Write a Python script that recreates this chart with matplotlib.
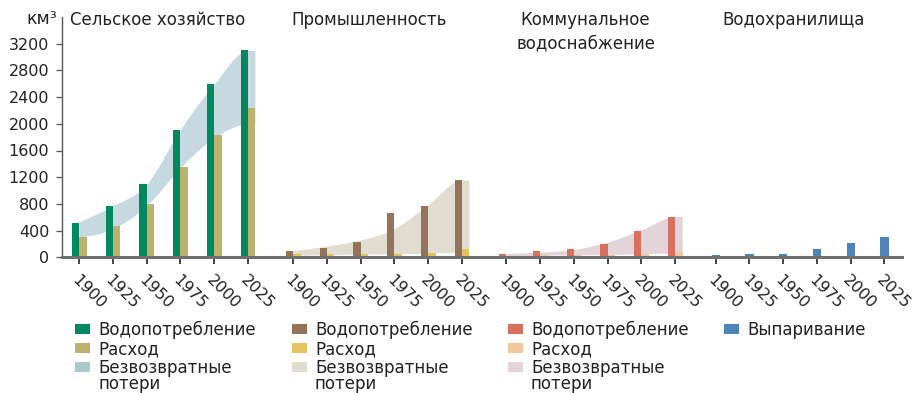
import numpy as np
import matplotlib
matplotlib.use("Agg")
import matplotlib.pyplot as plt
from matplotlib.path import Path
from matplotlib.patches import PathPatch, Rectangle

# --- data (km3) ---
YEARS = ["1900", "1925", "1950", "1975", "2000", "2025"]
GROUPS = ["Сельское хозяйство", "Промышленность", "Коммунальное\nводоснабжение", "Водохранилища"]

agri_withdrawal = [520, 770, 1100, 1900, 2600, 3100]
agri_consumption = [310, 470, 800, 1350, 1830, 2230]
agri_loss_top = [520, 760, 1080, 1900, 2580, 3090]
agri_loss_bottom = [305, 420, 760, 1330, 1780, 1990]

ind_withdrawal = [95, 140, 230, 665, 770, 1160]
ind_consumption = [45, 50, 50, 55, 70, 125]
ind_loss_top = [90, 160, 250, 420, 775, 1150]
ind_loss_bottom = [25, 35, 40, 45, 55, 70]

mun_withdrawal = [50, 95, 125, 200, 395, 605]
mun_consumption = [20, 30, 30, 35, 50, 85]
mun_loss_top = [50, 70, 110, 220, 400, 605]
mun_loss_bottom = [20, 25, 30, 35, 45, 55]

res_evaporation = [35, 50, 50, 125, 210, 310]

LEGEND_COLS = [
    ["Водопотребление", "Расход", "Безвозвратные\nпотери"],
    ["Водопотребление", "Расход", "Безвозвратные\nпотери"],
    ["Водопотребление", "Расход", "Безвозвратные\nпотери"],
    ["Выпаривание"],
]

# --- style ---
W, H = 922, 393
TXT = "#222222"
C_AGRI = ("#00895f", "#bdb16f", "#c6d9e0")
C_IND = ("#93745a", "#e5c35e", "#e0dcd0")
C_MUN = ("#d96f5f", "#f0c89b", "#e3d4d9")
C_RES = "#4e84b9"
LEG_COLORS = [
    ["#00895f", "#bdb16f", "#a9cacb"],
    ["#93745a", "#e5c35e", "#e0dcd0"],
    ["#d96f5f", "#f0c89b", "#e3d4d9"],
    ["#4e84b9"],
]
GROUP_START = [0.0, 6.34, 12.66, 18.86]
BW = 0.22


def fx(px):
    return px / W


def fy(py):
    return 1 - py / H


def hermite_band(ax, xs, top, bottom, color):
    """Smooth band between two curves, drawn as cubic bezier path."""
    def segs(x, y):
        x = np.asarray(x, float)
        y = np.asarray(y, float)
        sec = np.diff(y) / np.diff(x)
        m = np.empty_like(y)
        m[0] = sec[0]
        m[-1] = 0.0
        for i in range(1, len(y) - 1):
            if sec[i - 1] * sec[i] <= 0:
                m[i] = 0.0
            else:
                m[i] = 0.5 * (sec[i - 1] + sec[i])
        verts = []
        for i in range(len(x) - 1):
            dx = x[i + 1] - x[i]
            verts.append((x[i] + dx / 3, y[i] + m[i] * dx / 3))
            verts.append((x[i + 1] - dx / 3, y[i + 1] - m[i + 1] * dx / 3))
            verts.append((x[i + 1], y[i + 1]))
        return verts

    xe = list(xs) + [xs[-1] + BW]
    te = list(top) + [top[-1]]
    be = list(bottom) + [bottom[-1]]
    up = segs(xe, te)
    lo = segs(xe[::-1], be[::-1])
    verts = [(xe[0], te[0])] + up + [(xe[-1], be[-1])] + lo + [(xe[0], te[0])]
    codes = ([Path.MOVETO] + [Path.CURVE4] * len(up) + [Path.LINETO]
             + [Path.CURVE4] * len(lo) + [Path.CLOSEPOLY])
    ax.add_patch(PathPatch(Path(verts, codes), facecolor=color, edgecolor="none", zorder=1))


plt.rcParams["font.family"] = ["DejaVu Sans"]
fig = plt.figure(figsize=(W / 100, H / 100), dpi=100)
ax = fig.add_axes([fx(61.7), fy(257.3), fx(902) - fx(61.7), (257.3 - 17) / H])

pairs = [
    (agri_withdrawal, agri_consumption, agri_loss_top, agri_loss_bottom, C_AGRI),
    (ind_withdrawal, ind_consumption, ind_loss_top, ind_loss_bottom, C_IND),
    (mun_withdrawal, mun_consumption, mun_loss_top, mun_loss_bottom, C_MUN),
]
all_ticks = []
for g, (wd, cons, lt, lb, cols) in enumerate(pairs):
    xs = GROUP_START[g] + np.arange(len(YEARS))
    all_ticks.extend(xs)
    hermite_band(ax, xs, lt, lb, cols[2])
    ax.bar(xs - BW / 2, wd, width=BW, color=cols[0], zorder=2)
    ax.bar(xs + BW / 2, cons, width=BW, color=cols[1], zorder=3)

xs = GROUP_START[3] + np.arange(len(YEARS))
all_ticks.extend(xs)
ax.bar(xs, res_evaporation, width=BW + 0.02, color=C_RES, zorder=2)

ax.set_xlim(-0.52, 24.38)
ax.set_ylim(0, 3600)
ax.set_yticks(range(0, 3201, 400))
ax.set_xticks(all_ticks)
ax.set_xticklabels(YEARS * 4, rotation=-45, ha="left", va="top", rotation_mode="anchor")

for s in ["top", "right"]:
    ax.spines[s].set_visible(False)
ax.spines["left"].set_color("#555555")
ax.spines["left"].set_linewidth(1.0)
ax.spines["bottom"].set_color("#6e6e6e")
ax.spines["bottom"].set_linewidth(2.2)
ax.spines["bottom"].set_zorder(4)
ax.tick_params(axis="y", length=4, width=0.9, color="#555555", labelsize=11.5,
               labelcolor=TXT, pad=5)
ax.tick_params(axis="x", length=5, width=1.3, color="#333333", labelsize=11.5,
               labelcolor=TXT, pad=6)

fig.text(fx(57), fy(19), "км³", ha="right", va="center", fontsize=12.5, color=TXT)

fig.text(fx(70), fy(20), GROUPS[0], ha="left", va="center", fontsize=12, color=TXT)
fig.text(fx(291), fy(20), GROUPS[1], ha="left", va="center", fontsize=12, color=TXT)
fig.text(fx(585.5), fy(32), GROUPS[2], ha="center", va="center", fontsize=12,
         color=TXT, linespacing=1.4)
fig.text(fx(722), fy(20), GROUPS[3], ha="left", va="center", fontsize=12, color=TXT)

# legend
col_x = [75, 292, 508, 724]
row_y = [329, 348, 367]
for ci, (labels, colors) in enumerate(zip(LEGEND_COLS, LEG_COLORS)):
    for ri, (lab, c) in enumerate(zip(labels, colors)):
        yc = row_y[ri]
        fig.patches.append(Rectangle((fx(col_x[ci]), fy(yc + 5)), 15 / W, 10 / H,
                                     transform=fig.transFigure, facecolor=c,
                                     edgecolor="none"))
        fig.text(fx(col_x[ci] + 23), fy(yc - 8), lab, ha="left", va="top",
                 fontsize=12, color=TXT, linespacing=0.85)

fig.savefig("out.png", dpi=100)
